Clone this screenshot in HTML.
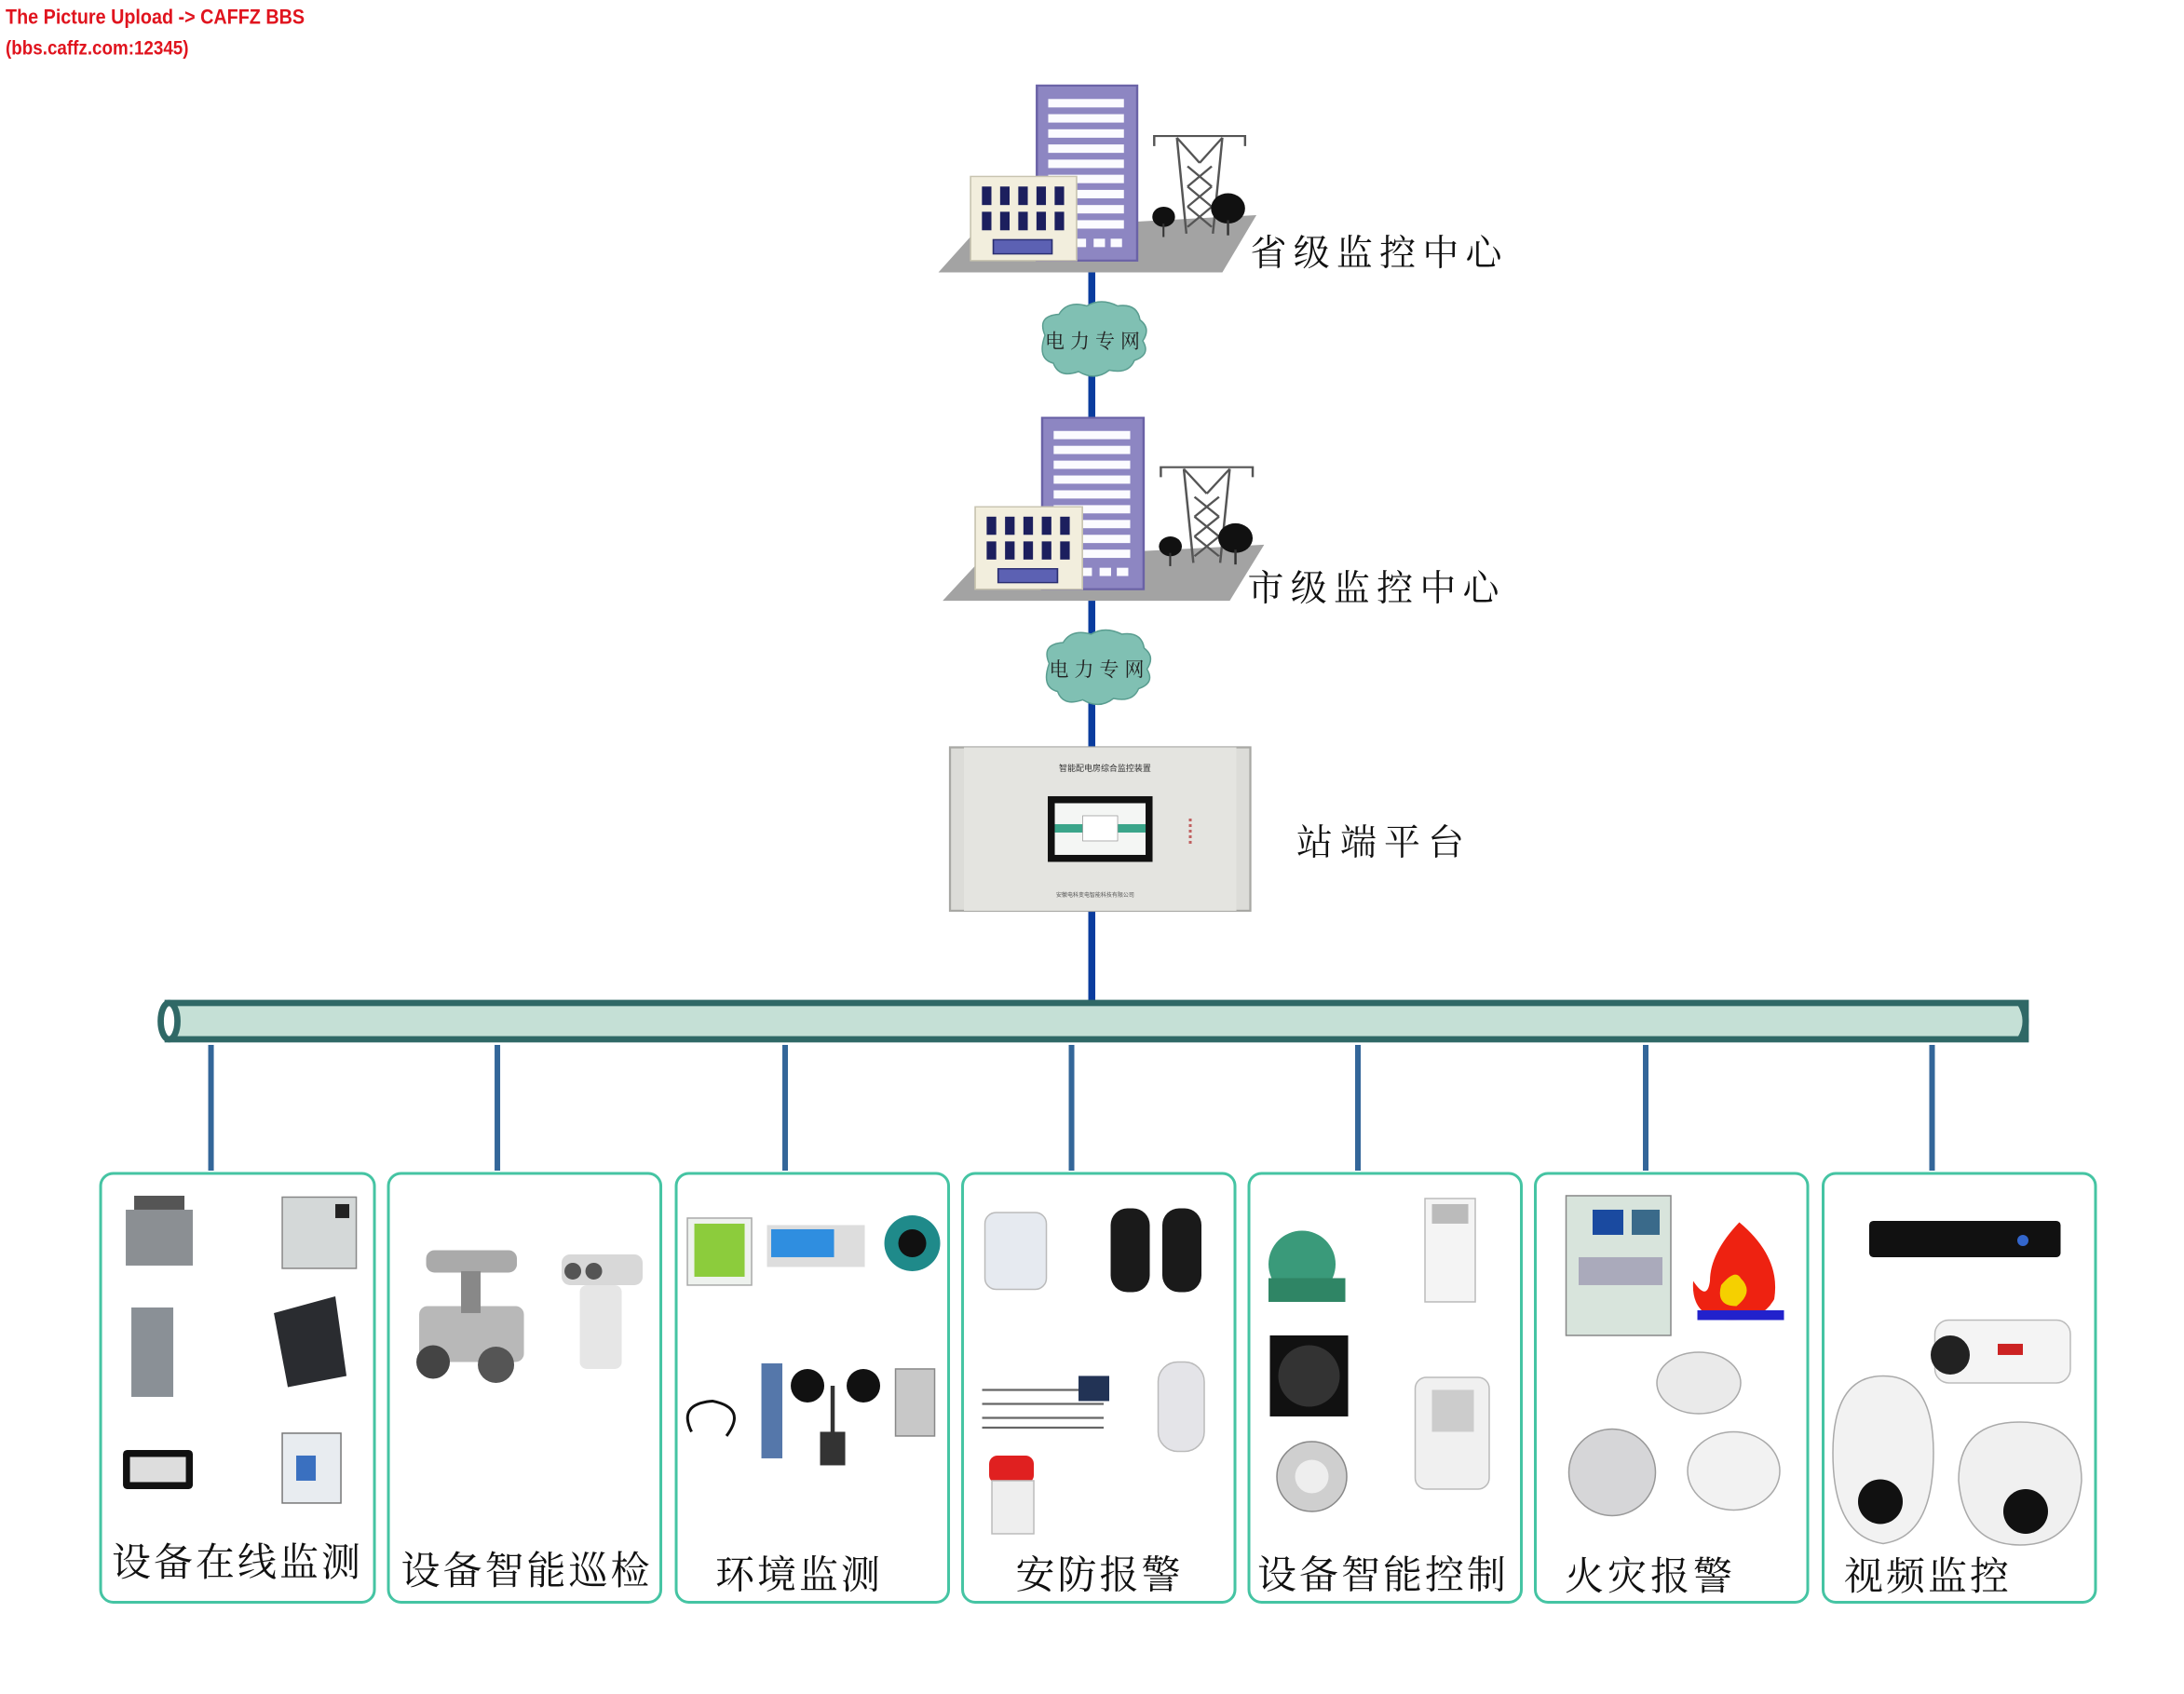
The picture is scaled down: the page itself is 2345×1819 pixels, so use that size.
<!DOCTYPE html>
<html><head><meta charset="utf-8"><style>
html,body{margin:0;padding:0;background:#fff;}
svg{display:block;}
text{font-family:"Liberation Serif","Noto Serif CJK SC","Noto Sans CJK SC",serif;}
</style></head><body>
<svg width="2345" height="1819" viewBox="0 0 1563.3 1212.7" xmlns="http://www.w3.org/2000/svg">
<defs>
<g id="bld">
  <polygon points="10,585 110,460 850,415 760,585" fill="#a3a3a3"/>
  <rect x="270" y="30" width="265" height="520" fill="#8d86c2" stroke="#6a62a6" stroke-width="6"/>
  <g fill="#fbfbff">
    <rect x="300" y="70" width="200" height="25"/><rect x="300" y="115" width="200" height="25"/>
    <rect x="300" y="160" width="200" height="25"/><rect x="300" y="205" width="200" height="25"/>
    <rect x="300" y="250" width="200" height="25"/><rect x="300" y="295" width="200" height="25"/>
    <rect x="360" y="340" width="140" height="25"/><rect x="360" y="385" width="140" height="25"/>
    <rect x="360" y="430" width="140" height="25"/><rect x="370" y="485" width="30" height="25"/><rect x="420" y="485" width="30" height="25"/><rect x="465" y="485" width="30" height="25"/>
  </g>
  <rect x="95" y="300" width="280" height="250" fill="#f2eedd" stroke="#c8c4b0" stroke-width="4"/>
  <g fill="#1c1f5e">
    <rect x="125" y="330" width="25" height="55"/><rect x="173" y="330" width="25" height="55"/><rect x="221" y="330" width="25" height="55"/><rect x="269" y="330" width="25" height="55"/><rect x="317" y="330" width="25" height="55"/>
    <rect x="125" y="405" width="25" height="55"/><rect x="173" y="405" width="25" height="55"/><rect x="221" y="405" width="25" height="55"/><rect x="269" y="405" width="25" height="55"/><rect x="317" y="405" width="25" height="55"/>
  </g>
  <rect x="155" y="488" width="155" height="42" fill="#5c61b3" stroke="#2a2e70" stroke-width="4"/>
  <g stroke="#555" stroke-width="6" fill="none">
    <polyline points="580,210 580,180 820,180 820,210"/>
    <line x1="640" y1="185" x2="665" y2="470"/><line x1="760" y1="185" x2="735" y2="470"/>
    <line x1="640" y1="185" x2="700" y2="260"/><line x1="760" y1="185" x2="700" y2="260"/>
    <path d="M668,270 L732,330 M732,270 L668,330 M668,330 L732,390 M732,330 L668,390 M668,390 L732,450 M732,390 L668,450"/>
  </g>
  <circle cx="605" cy="420" r="30" fill="#111"/><rect x="602" y="440" width="5" height="40" fill="#333"/>
  <circle cx="775" cy="395" r="45" fill="#111"/><rect x="772" y="430" width="6" height="45" fill="#333"/>
</g>
</defs>

<text x="4" y="17" fill="#e0141e" font-family="Liberation Sans Narrow,Liberation Sans,sans-serif" font-weight="bold" font-size="15" textLength="214" lengthAdjust="spacingAndGlyphs" style="font-family:'Liberation Sans Narrow','Liberation Sans',sans-serif">The Picture Upload -&gt; CAFFZ BBS</text>
<text x="4" y="39" fill="#e0141e" font-weight="bold" font-size="14" textLength="131" lengthAdjust="spacingAndGlyphs" style="font-family:'Liberation Sans Narrow','Liberation Sans',sans-serif">(bbs.caffz.com:12345)</text>

<!-- main vertical line -->
<line x1="781.5" y1="192" x2="781.5" y2="716" stroke="#0a3c9e" stroke-width="5"/>

<use href="#bld" transform="translate(669,54) scale(0.271,0.241)"/>
<use href="#bld" transform="translate(672,292) scale(0.274,0.236)"/>

<text x="895" y="190" font-size="26" textLength="180" fill="#111">省级监控中心</text>
<text x="893" y="430" font-size="26" textLength="180" fill="#111">市级监控中心</text>

<!-- clouds -->
<g id="cl">
<path d="M748,240 q-6,-14 10,-15 q6,-10 20,-6 q10,-6 22,0 q14,-2 16,10 q8,6 2,15 q6,10 -6,14 q-4,10 -18,7 q-10,8 -22,1 q-14,5 -18,-6 q-12,-3 -6,-20z" fill="#80c0b3" stroke="#5a9d90" stroke-width="1"/>
<text x="748" y="249" font-size="14" fill="#222" textLength="68">电力专网</text>
</g>
<use href="#cl" transform="translate(3,235)"/>

<!-- station -->
<rect x="680" y="535" width="215" height="117" fill="#dcdcd8" stroke="#a8a8a4" stroke-width="1.5"/>
<rect x="690" y="535" width="195" height="117" fill="#e4e4e0"/>
<rect x="750" y="570" width="75" height="47" fill="#111"/>
<rect x="755" y="575" width="65" height="37" fill="#f4f6f4"/>
<rect x="755" y="590" width="65" height="6" fill="#3aa58a"/>
<rect x="775" y="584" width="25" height="18" fill="#fff" stroke="#999" stroke-width=".5"/>
<text x="758" y="552" font-size="6" fill="#333" style="font-family:'Liberation Sans','Noto Sans CJK SC',sans-serif">智能配电房综合监控装置</text>
<text x="756" y="642" font-size="4" fill="#555" style="font-family:'Liberation Sans','Noto Sans CJK SC',sans-serif">安徽电科变电智能科技有限公司</text>
<g fill="#c06060"><rect x="851" y="586" width="2" height="2"/><rect x="851" y="590" width="2" height="2"/><rect x="851" y="594" width="2" height="2"/><rect x="851" y="598" width="2" height="2"/><rect x="851" y="602" width="2" height="2"/></g>
<text x="928" y="612" font-size="26" textLength="120" fill="#111">站端平台</text>

<!-- pipe -->
<rect x="120" y="718" width="1330" height="26" fill="#c5e0d6" stroke="#2f6866" stroke-width="4.5"/>
<path d="M1446,718 q8,13 0,26" fill="none" stroke="#2f6866" stroke-width="4.5"/>
<ellipse cx="121" cy="731" rx="6" ry="13" fill="#fff" stroke="#2f6866" stroke-width="4.5"/>

<!-- drops -->
<g stroke="#336699" stroke-width="4">
<line x1="151" y1="748" x2="151" y2="838"/><line x1="356" y1="748" x2="356" y2="838"/>
<line x1="562" y1="748" x2="562" y2="838"/><line x1="767" y1="748" x2="767" y2="838"/>
<line x1="972" y1="748" x2="972" y2="838"/><line x1="1178" y1="748" x2="1178" y2="838"/>
<line x1="1383" y1="748" x2="1383" y2="838"/>
</g>

<!-- boxes -->
<g fill="none" stroke="#45c4a3" stroke-width="2">
<rect x="72" y="840" width="196" height="307" rx="9"/>
<rect x="278" y="840" width="195" height="307" rx="9"/>
<rect x="484" y="840" width="195" height="307" rx="9"/>
<rect x="689" y="840" width="195" height="307" rx="9"/>
<rect x="894" y="840" width="195" height="307" rx="9"/>
<rect x="1099" y="840" width="195" height="307" rx="9"/>
<rect x="1305" y="840" width="195" height="307" rx="9"/>
</g>

<g font-size="28" fill="#111">
<text x="80" y="1128" textLength="178">设备在线监测</text>
<text x="287" y="1134" textLength="178">设备智能巡检</text>
<text x="512" y="1137" textLength="118">环境监测</text>
<text x="727" y="1137" textLength="118">安防报警</text>
<text x="900" y="1137" textLength="178">设备智能控制</text>
<text x="1120" y="1138" textLength="120">火灾报警</text>
<text x="1320" y="1138" textLength="118">视频监控</text>
</g>

<!-- box1 devices -->
<rect x="90" y="866" width="48" height="40" fill="#8b8f93"/><rect x="96" y="856" width="36" height="10" fill="#555"/>
<rect x="202" y="857" width="53" height="51" fill="#d4d8d8" stroke="#888"/><rect x="240" y="862" width="10" height="10" fill="#222"/>
<rect x="94" y="936" width="30" height="64" fill="#8a9096"/>
<polygon points="196,940 240,928 248,985 206,993" fill="#2a2c30"/>
<rect x="88" y="1038" width="50" height="28" rx="3" fill="#111"/><rect x="93" y="1043" width="40" height="18" fill="#ddd"/>
<rect x="202" y="1026" width="42" height="50" fill="#e8ecf0" stroke="#777"/><rect x="212" y="1042" width="14" height="18" fill="#3a70c0"/>
<!-- box2 -->
<rect x="300" y="935" width="75" height="40" rx="6" fill="#b8b8b8"/><circle cx="310" cy="975" r="12" fill="#444"/><circle cx="355" cy="977" r="13" fill="#555"/>
<rect x="305" y="895" width="65" height="16" rx="6" fill="#aaa"/><rect x="330" y="910" width="14" height="30" fill="#888"/>
<rect x="402" y="898" width="58" height="22" rx="6" fill="#d8d8d8"/><rect x="415" y="920" width="30" height="60" rx="5" fill="#e6e6e6"/><circle cx="410" cy="910" r="6" fill="#555"/><circle cx="425" cy="910" r="6" fill="#555"/>
<!-- box3 -->
<rect x="492" y="872" width="46" height="48" fill="#eef2ee" stroke="#aaa"/><rect x="497" y="876" width="36" height="38" fill="#8ccc3c"/>
<rect x="549" y="877" width="70" height="30" fill="#ddd"/><rect x="552" y="880" width="45" height="20" fill="#2f8ee0"/>
<circle cx="653" cy="890" r="20" fill="#1f8a8a"/><circle cx="653" cy="890" r="10" fill="#111"/>
<path d="M495,1025 q-10,-20 15,-22 q25,5 10,25" fill="none" stroke="#111" stroke-width="2"/>
<rect x="545" y="976" width="15" height="68" fill="#5577aa"/>
<circle cx="578" cy="992" r="12" fill="#111"/><circle cx="618" cy="992" r="12" fill="#111"/><rect x="587" y="1025" width="18" height="24" fill="#333"/><line x1="596" y1="992" x2="596" y2="1030" stroke="#333" stroke-width="3"/>
<rect x="641" y="980" width="28" height="48" fill="#c8c8c8" stroke="#888"/>
<!-- box4 -->
<rect x="705" y="868" width="44" height="55" rx="8" fill="#e6eaf0" stroke="#bbb"/>
<rect x="795" y="865" width="28" height="60" rx="12" fill="#1a1a1a"/><rect x="832" y="865" width="28" height="60" rx="12" fill="#1a1a1a"/>
<g stroke="#666" stroke-width="1.5"><line x1="703" y1="995" x2="790" y2="995"/><line x1="703" y1="1005" x2="790" y2="1005"/><line x1="703" y1="1015" x2="790" y2="1015"/><line x1="703" y1="1022" x2="790" y2="1022"/></g>
<rect x="772" y="985" width="22" height="18" fill="#223355"/>
<rect x="708" y="1042" width="32" height="20" rx="6" fill="#e02020"/><rect x="710" y="1060" width="30" height="38" fill="#eee" stroke="#bbb"/>
<rect x="829" y="975" width="33" height="64" rx="14" fill="#e4e4e8" stroke="#bbb"/>
<!-- box5 -->
<circle cx="932" cy="905" r="24" fill="#3a9a7a"/><rect x="908" y="915" width="55" height="17" fill="#2f8565"/>
<rect x="1020" y="858" width="36" height="74" fill="#f4f4f4" stroke="#bbb"/><rect x="1025" y="862" width="26" height="14" fill="#bbb"/>
<rect x="909" y="956" width="56" height="58" fill="#111"/><circle cx="937" cy="985" r="22" fill="#333"/>
<rect x="1013" y="986" width="53" height="80" rx="8" fill="#f0f0f0" stroke="#bbb"/><rect x="1025" y="995" width="30" height="30" fill="#ccc"/>
<circle cx="939" cy="1057" r="25" fill="#cfcfcf" stroke="#888"/><circle cx="939" cy="1057" r="12" fill="#eee"/>
<!-- box6 -->
<rect x="1121" y="856" width="75" height="100" fill="#d8e4dc" stroke="#888"/><rect x="1140" y="866" width="22" height="18" fill="#1a4aa0"/><rect x="1168" y="866" width="20" height="18" fill="#3a6a8a"/><rect x="1130" y="900" width="60" height="20" fill="#aab"/>
<path d="M1245,875 q30,25 25,55 q-8,15 -30,15 q-30,0 -28,-28 q10,15 12,0 q0,-20 21,-42z" fill="#ee2211"/><path d="M1232,920 q10,-12 14,-5 q10,10 -3,20 q-15,0 -11,-15z" fill="#f5d000"/><rect x="1215" y="938" width="62" height="7" fill="#2222cc"/>
<ellipse cx="1216" cy="990" rx="30" ry="22" fill="#eaeaea" stroke="#aaa"/>
<circle cx="1154" cy="1054" r="31" fill="#d6d6d8" stroke="#999"/>
<ellipse cx="1241" cy="1053" rx="33" ry="28" fill="#f2f2f2" stroke="#aaa"/>
<!-- box7 -->
<rect x="1338" y="874" width="137" height="26" rx="3" fill="#111"/><circle cx="1448" cy="888" r="4" fill="#36c"/>
<rect x="1385" y="945" width="97" height="45" rx="10" fill="#f4f4f4" stroke="#bbb"/><circle cx="1396" cy="970" r="14" fill="#222"/><rect x="1430" y="962" width="18" height="8" fill="#c22"/>
<path d="M1312,1040 q0,-55 36,-55 q36,0 36,55 q0,60 -36,65 q-36,-5 -36,-65z" fill="#f2f2f2" stroke="#aaa"/><circle cx="1346" cy="1075" r="16" fill="#111"/>
<path d="M1402,1060 q0,-42 44,-42 q44,0 44,42 q-4,46 -44,46 q-40,0 -44,-46z" fill="#f0f0f0" stroke="#aaa"/><circle cx="1450" cy="1082" r="16" fill="#111"/>
</svg>
</body></html>
